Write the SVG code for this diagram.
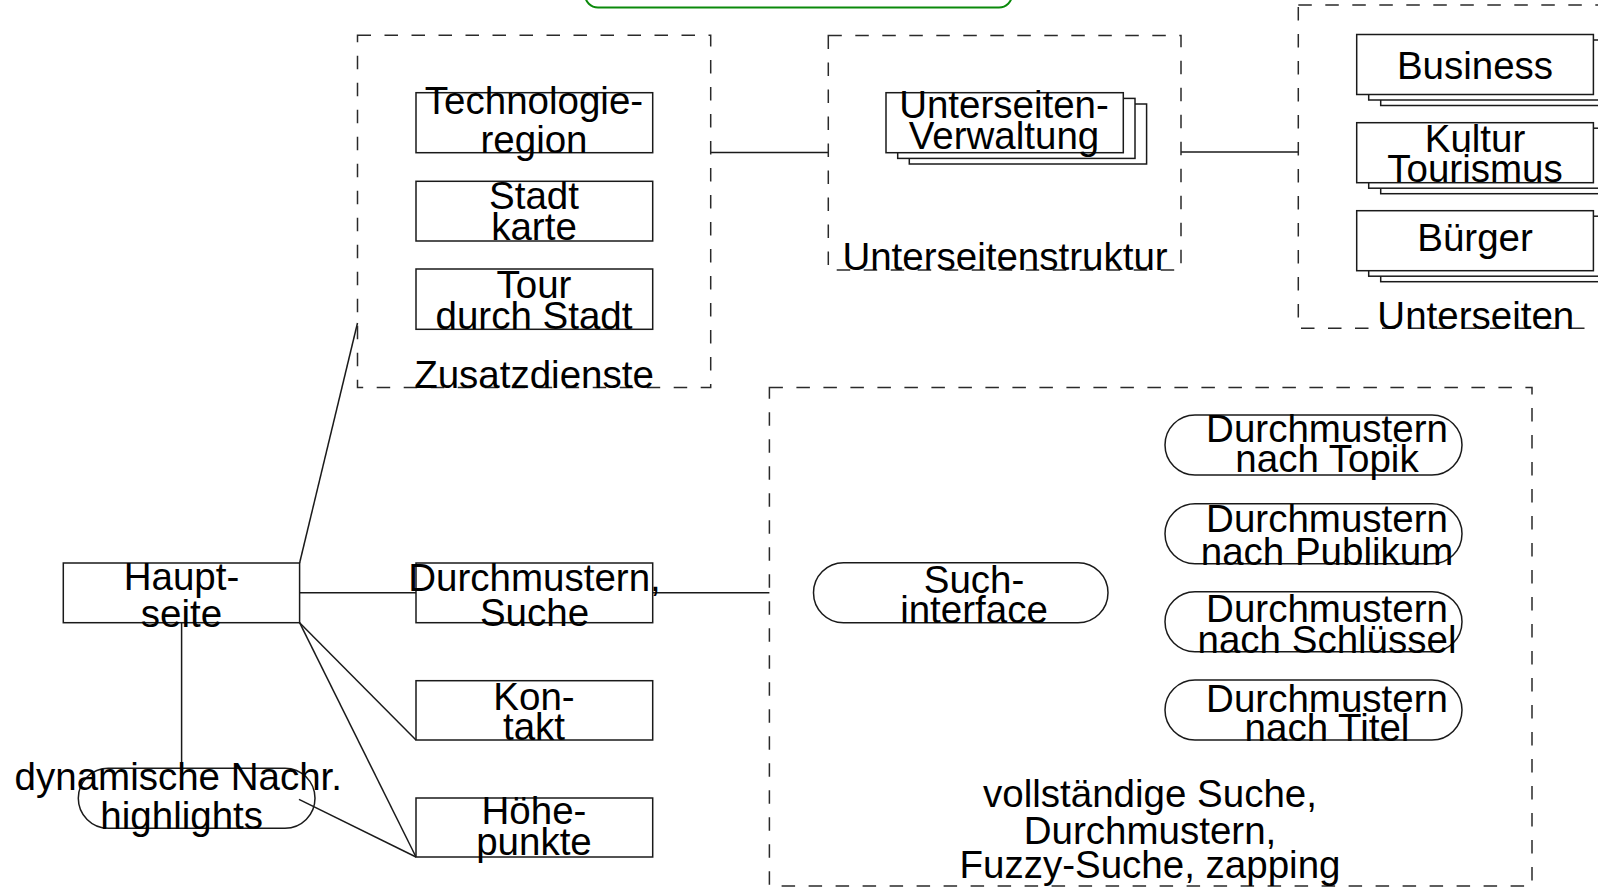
<svg xmlns="http://www.w3.org/2000/svg" width="1598" height="889" viewBox="0 0 1598 889">
<style>
  text { font-family: "Liberation Sans", Arial, sans-serif; font-size: 38.5px; fill: #000; text-anchor: middle; }
  .box { fill: #fff; stroke: #1a1a1a; stroke-width: 1.5; }
  .shadow { fill: #fff; stroke: #1a1a1a; stroke-width: 1.5; }
  .pill { fill: none; stroke: #1a1a1a; stroke-width: 1.5; }
  .group { fill: none; stroke: #2a2a2a; stroke-width: 1.5; stroke-dasharray: 13.5 13.5; }
  .conn { fill: none; stroke: #1a1a1a; stroke-width: 1.5; }
</style>
<rect width="1598" height="889" fill="#fff"/>

<g id="top-green">
  <rect x="585" y="-60" width="427" height="67.5" rx="13" ry="13" fill="none" stroke="#0b8a0b" stroke-width="2"/>
</g>

<g id="connectors">
  <line class="conn" x1="710.7" y1="152.5" x2="828.3" y2="152.5"/>
  <line class="conn" x1="1181" y1="152" x2="1298.3" y2="152"/>
  <line class="conn" x1="299.6" y1="563" x2="357.5" y2="323"/>
  <line class="conn" x1="299.6" y1="592.7" x2="416" y2="592.7"/>
  <line class="conn" x1="652.7" y1="592.7" x2="769.4" y2="592.7"/>
  <line class="conn" x1="299.6" y1="622.7" x2="416" y2="740"/>
  <line class="conn" x1="299.6" y1="622.7" x2="416" y2="857"/>
  <line class="conn" x1="181.6" y1="622.7" x2="181.6" y2="768.3"/>
  <line class="conn" x1="299" y1="799.3" x2="416" y2="857"/>
</g>

<g id="zusatzdienste">
  <rect class="group" x="357.5" y="35.3" width="353.2" height="352.3"/>
  <text x="534" y="387.7">Zusatzdienste</text>
</g>
<g id="technologieregion">
  <rect class="box" x="416" y="92.7" width="236.7" height="60"/>
  <text x="534" y="114.3">Technologie-</text>
  <text x="534" y="152.5">region</text>
</g>
<g id="stadtkarte">
  <rect class="box" x="416" y="181.3" width="236.7" height="59.7"/>
  <text x="534" y="209">Stadt</text>
  <text x="534" y="240">karte</text>
</g>
<g id="tour">
  <rect class="box" x="416" y="269" width="236.7" height="60.3"/>
  <text x="534" y="298">Tour</text>
  <text x="534" y="329">durch Stadt</text>
</g>

<g id="unterseitenstruktur">
  <rect class="group" x="828.3" y="35.5" width="352.7" height="234.5"/>
  <text x="1005" y="270.3">Unterseitenstruktur</text>
</g>
<g id="unterseiten-verwaltung">
  <rect class="shadow" x="909.3" y="104" width="237.3" height="60"/>
  <rect class="shadow" x="897.7" y="98.4" width="237.3" height="60"/>
  <rect class="box" x="886" y="92.7" width="237.3" height="60"/>
  <text x="1004" y="118">Unterseiten-</text>
  <text x="1004" y="149.3">Verwaltung</text>
</g>

<g id="unterseiten">
  <rect class="group" x="1298.3" y="5.1" width="400" height="323.2"/>
  <text x="1475.8" y="328.5">Unterseiten</text>
</g>
<g id="business">
  <rect class="shadow" x="1380.7" y="45.5" width="236.7" height="60"/>
  <rect class="shadow" x="1368.7" y="40" width="236.7" height="60"/>
  <rect class="box" x="1356.7" y="34.5" width="236.7" height="60"/>
  <text x="1475" y="79.3">Business</text>
</g>
<g id="kultur">
  <rect class="shadow" x="1380.7" y="133.7" width="236.7" height="60"/>
  <rect class="shadow" x="1368.7" y="128.2" width="236.7" height="60"/>
  <rect class="box" x="1356.7" y="122.7" width="236.7" height="60"/>
  <text x="1475" y="152">Kultur</text>
  <text x="1475" y="182">Tourismus</text>
</g>
<g id="buerger">
  <rect class="shadow" x="1380.7" y="221.7" width="236.7" height="60"/>
  <rect class="shadow" x="1368.7" y="216.2" width="236.7" height="60"/>
  <rect class="box" x="1356.7" y="210.7" width="236.7" height="60"/>
  <text x="1475" y="251">Bürger</text>
</g>

<g id="hauptseite">
  <rect class="box" x="63.3" y="563" width="236.3" height="59.7" fill="none"/>
  <text x="181.5" y="590">Haupt-</text>
  <text x="181.5" y="626.6">seite</text>
</g>
<g id="durchmustern-suche">
  <rect class="box" x="416" y="563" width="236.7" height="59.7"/>
  <text x="534.5" y="591">Durchmustern,</text>
  <text x="534.5" y="625.5">Suche</text>
</g>
<g id="kontakt">
  <rect class="box" x="416" y="680.7" width="236.7" height="59.3"/>
  <text x="534" y="710">Kon-</text>
  <text x="534" y="740">takt</text>
</g>
<g id="hoehepunkte">
  <rect class="box" x="416" y="798" width="236.7" height="59"/>
  <text x="534" y="824">Höhe-</text>
  <text x="534" y="855">punkte</text>
</g>
<g id="dynamische-nachrichten">
  <rect class="pill" x="78.3" y="768.3" width="236.7" height="60" rx="30" ry="30"/>
  <text x="178.3" y="790">dynamische Nachr.</text>
  <text x="181.7" y="829">highlights</text>
</g>

<g id="vollstaendige-suche">
  <rect class="group" x="769.4" y="387.5" width="762.6" height="498.5"/>
  <text x="1150" y="806.5">vollständige Suche,</text>
  <text x="1150" y="844">Durchmustern,</text>
  <text x="1150" y="878">Fuzzy-Suche, zapping</text>
</g>
<g id="such-interface">
  <rect class="pill" x="813.5" y="562.7" width="294.5" height="60" rx="30" ry="30"/>
  <text x="974" y="592.5">Such-</text>
  <text x="974" y="622.5">interface</text>
</g>
<g id="nach-topik">
  <rect class="pill" x="1165" y="415" width="297" height="60" rx="30" ry="30"/>
  <text x="1327" y="441.7">Durchmustern</text>
  <text x="1327" y="471.7">nach Topik</text>
</g>
<g id="nach-publikum">
  <rect class="pill" x="1165" y="503.7" width="297" height="60" rx="30" ry="30"/>
  <text x="1327" y="532">Durchmustern</text>
  <text x="1327" y="564.7">nach Publikum</text>
</g>
<g id="nach-schluessel">
  <rect class="pill" x="1165" y="591.7" width="297" height="60" rx="30" ry="30"/>
  <text x="1327" y="621.6">Durchmustern</text>
  <text x="1327" y="653">nach Schlüssel</text>
</g>
<g id="nach-titel">
  <rect class="pill" x="1165" y="680" width="297" height="60" rx="30" ry="30"/>
  <text x="1327" y="711.5">Durchmustern</text>
  <text x="1327" y="741">nach Titel</text>
</g>
</svg>
